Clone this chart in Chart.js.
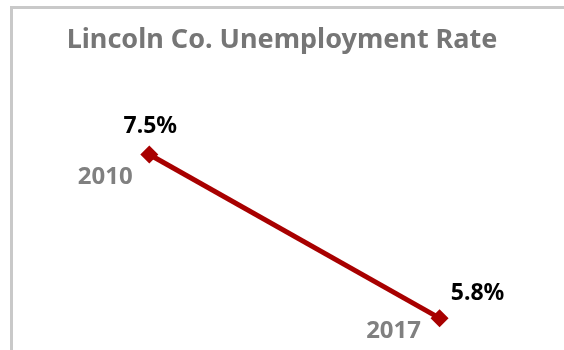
<!DOCTYPE html>
<html>
<head>
<meta charset="utf-8">
<script src="https://cdn.jsdelivr.net/npm/chart.js@4"></script>
<style>
  html, body { margin: 0; padding: 0; background: #fff; }
  #wrap { position: relative; width: 564px; height: 350px; overflow: hidden; }
  #frame {
    position: absolute; left: 10px; top: 6px; width: 600px; height: 400px;
    border-left: 3px solid #c9c9c9; border-top: 3px solid #c9c9c9;
  }
  #myChart { position: absolute; left: 0; top: 0; }
</style>
</head>
<body>
<div id="wrap">
  <div id="frame"></div>
  <canvas id="myChart" width="564" height="350"></canvas>
</div>
<script>
const years = [2010, 2017];
const rates = [7.5, 5.8];

// where each label sits relative to its point
const valueOffsets = [[1, -28], [38, -25]];
const yearOffsets = [[-44, 23], [-46, 13]];

const FONT = "'Noto Sans', 'DejaVu Sans', sans-serif";

const pointLabels = {
  id: 'pointLabels',
  afterDatasetsDraw(chart) {
    const ctx = chart.ctx;
    const meta = chart.getDatasetMeta(0);
    ctx.save();
    ctx.textAlign = 'center';
    ctx.textBaseline = 'middle';
    meta.data.forEach((pt, i) => {
      ctx.font = 'bold 23px ' + FONT;
      ctx.fillStyle = '#000000';
      ctx.fillText(rates[i].toFixed(1) + '%', pt.x + valueOffsets[i][0], pt.y + valueOffsets[i][1]);
      ctx.font = 'bold 24px ' + FONT;
      ctx.fillStyle = '#808080';
      ctx.fillText(String(years[i]), pt.x + yearOffsets[i][0], pt.y + yearOffsets[i][1]);
    });
    ctx.restore();
  }
};

window.onload = function () {
  const ctx = document.getElementById('myChart').getContext('2d');
  new Chart(ctx, {
    type: 'line',
    data: {
      datasets: [{
        data: years.map((yr, i) => ({ x: yr, y: rates[i] })),
        borderColor: '#a80000',
        backgroundColor: '#a80000',
        borderWidth: 5,
        pointStyle: 'rectRot',
        pointRadius: 9,
        pointBorderWidth: 0,
        clip: false
      }]
    },
    options: {
      responsive: false,
      animation: false,
      layout: { autoPadding: false, padding: { left: 0, right: 0, top: 0, bottom: 3 } },
      plugins: {
        legend: { display: false },
        tooltip: { enabled: false },
        title: {
          display: true,
          text: 'Lincoln Co. Unemployment Rate',
          color: '#767676',
          font: { family: FONT, size: 27, weight: 'bold' },
          padding: { top: 24, bottom: 50 }
        }
      },
      scales: {
        x: { type: 'linear', display: false, min: 2006.4, max: 2020 },
        y: { display: false, min: 5.5, max: 8.0 }
      }
    },
    plugins: [pointLabels]
  });
};
</script>
</body>
</html>
